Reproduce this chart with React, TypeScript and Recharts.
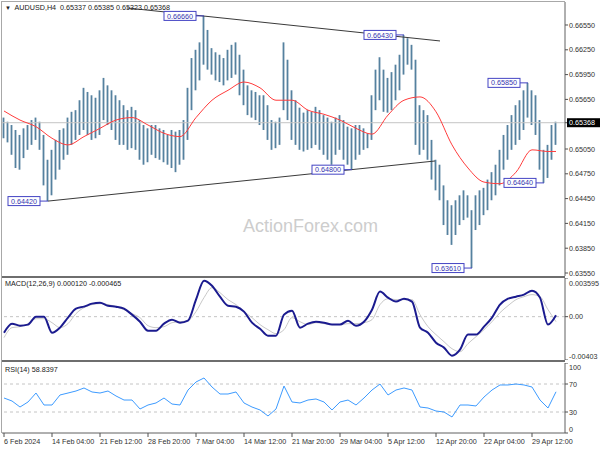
import React from 'react';
import {
  ComposedChart,
  Bar,
  Line,
  XAxis,
  YAxis,
  ReferenceLine,
  ReferenceDot
} from 'recharts';

const FONT = '"Liberation Sans", Arial, sans-serif';

// H4 highs / lows, one entry per ~2.7 bars
const barHighs = [
  0.6543, 0.6538, 0.6534, 0.6528, 0.6522, 0.6530, 0.6534, 0.6540, 0.6543, 0.6538,
  0.6522, 0.6492, 0.6504, 0.6516, 0.6528, 0.6530, 0.6543, 0.6550, 0.6552, 0.6564,
  0.6579, 0.6574, 0.6570, 0.6567, 0.6576, 0.6591, 0.6582, 0.6576, 0.6570, 0.6564,
  0.6558, 0.6552, 0.6556, 0.6552, 0.6540, 0.6534, 0.6530, 0.6534, 0.6534, 0.6530,
  0.6528, 0.6522, 0.6528, 0.6526, 0.6528, 0.6540, 0.6579, 0.6615, 0.6625, 0.6634,
  0.6666, 0.6649, 0.6627, 0.6622, 0.6619, 0.6615, 0.6625, 0.6631, 0.6634, 0.6619,
  0.6601, 0.6582, 0.6576, 0.6574, 0.6570, 0.6570, 0.6558, 0.6540, 0.6538, 0.6543,
  0.6634, 0.6613, 0.6576, 0.6564, 0.6555, 0.6549, 0.6552, 0.6550, 0.6556, 0.6552,
  0.6546, 0.6543, 0.6538, 0.6543, 0.6546, 0.6540, 0.6532, 0.6530, 0.6534, 0.6534,
  0.6530, 0.6524, 0.6570, 0.6601, 0.6616, 0.6601, 0.6591, 0.6598, 0.6607, 0.6619,
  0.6643, 0.6639, 0.6631, 0.6613, 0.6558, 0.6552, 0.6546, 0.6516, 0.6492, 0.6486,
  0.6461, 0.6443, 0.6437, 0.6443, 0.6449, 0.6455, 0.6449, 0.6431, 0.6449, 0.6455,
  0.6458, 0.6468, 0.6477, 0.6486, 0.6504, 0.6522, 0.6534, 0.6546, 0.6558, 0.6564,
  0.6576, 0.6585, 0.6576, 0.6570, 0.6540, 0.6504, 0.6510, 0.6534, 0.6538
];

const barLows = [
  0.6518, 0.6513, 0.6498, 0.6482, 0.6480, 0.6494, 0.6504, 0.6510, 0.6516, 0.6504,
  0.6461, 0.6442, 0.6449, 0.6468, 0.6480, 0.6492, 0.6498, 0.6510, 0.6516, 0.6522,
  0.6528, 0.6522, 0.6516, 0.6518, 0.6522, 0.6540, 0.6534, 0.6528, 0.6516, 0.6510,
  0.6510, 0.6504, 0.6506, 0.6504, 0.6492, 0.6486, 0.6489, 0.6498, 0.6494, 0.6492,
  0.6489, 0.6486, 0.6482, 0.6477, 0.6486, 0.6492, 0.6516, 0.6552, 0.6576, 0.6588,
  0.6607, 0.6601, 0.6595, 0.6588, 0.6586, 0.6582, 0.6588, 0.6591, 0.6595, 0.6570,
  0.6558, 0.6546, 0.6543, 0.6540, 0.6534, 0.6528, 0.6516, 0.6504, 0.6506, 0.6510,
  0.6552, 0.6540, 0.6516, 0.6510, 0.6504, 0.6502, 0.6504, 0.6506, 0.6510, 0.6504,
  0.6498, 0.6492, 0.6486, 0.6498, 0.6504, 0.6492, 0.6486, 0.6480, 0.6492, 0.6498,
  0.6504, 0.6506, 0.6516, 0.6552, 0.6564, 0.6550, 0.6549, 0.6552, 0.6564, 0.6576,
  0.6595, 0.6607, 0.6601, 0.6510, 0.6498, 0.6504, 0.6492, 0.6468, 0.6455, 0.6443,
  0.6413, 0.6401, 0.6389, 0.6401, 0.6413, 0.6419, 0.6422, 0.6361, 0.6407, 0.6413,
  0.6425, 0.6431, 0.6443, 0.6449, 0.6461, 0.6480, 0.6492, 0.6504, 0.6510, 0.6516,
  0.6528, 0.6543, 0.6534, 0.6522, 0.6480, 0.6464, 0.6470, 0.6492, 0.6510
];

// red moving average, read every 4th entry (last one = final bar)
const maValues = [
  0.6551, 0.6540, 0.6532, 0.6518, 0.6510, 0.6520, 0.6530, 0.6540, 0.6543, 0.6534,
  0.6524, 0.6520, 0.6543, 0.6564, 0.6576, 0.6586, 0.6579, 0.6564, 0.6564, 0.6552,
  0.6547, 0.6540, 0.6530, 0.6523, 0.6546, 0.6564, 0.6568, 0.6550, 0.6510, 0.6482,
  0.6465, 0.6463, 0.6477, 0.6504, 0.6502, 0.6502
];

// MACD(12,26,9) main + signal, every 2nd entry
const macdValues = [
  -0.00149, -0.00065, -0.00084, -0.00074, 0.0, 0.0, -0.00149, -0.00102, -0.00009, 0.00074,
  0.00093, 0.00121, 0.0013, 0.00102, 0.00093, 0.00074, 0.00019, -0.00047, -0.0013, -0.0013,
  -0.00065, -0.00028, -0.00056, -0.00037, 0.00158, 0.00335, 0.00288, 0.00186, 0.00102, 0.00093,
  0.00047, -0.00056, -0.00112, -0.00177, -0.00177, 0.00019, 0.00056, -0.00102, -0.00065, -0.00047,
  -0.00056, -0.00074, -0.00074, -0.00037, -0.00084, -0.00047, 0.00065, 0.00233, 0.00177, 0.0014,
  0.00167, 0.0014, -0.00102, -0.00149, -0.00242, -0.00288, -0.00363, -0.00307, -0.00167, -0.00167,
  -0.00093, -0.00009, 0.00112, 0.00167, 0.00186, 0.00205, 0.00242, 0.00177, -0.00074, 0.00012
];

const signalValues = [
  -0.00195, -0.00102, -0.00093, -0.00065, -0.00019, -0.00019, -0.00056, -0.00102, -0.00065, 0.00028,
  0.00084, 0.00112, 0.00121, 0.00112, 0.00093, 0.00065, 0.00028, -0.00009, -0.00084, -0.00102,
  -0.00093, -0.00056, -0.00047, -0.00037, 0.00047, 0.00177, 0.0027, 0.00223, 0.00158, 0.00112,
  0.00047, -0.00009, -0.00074, -0.00121, -0.00158, -0.00121, -0.00009, -0.00047, -0.00074, -0.00056,
  -0.00065, -0.00074, -0.00074, -0.00065, -0.00065, -0.00056, -0.00028, 0.00112, 0.00167, 0.00158,
  0.00158, 0.00158, 0.00019, -0.00093, -0.00167, -0.00233, -0.00298, -0.00326, -0.00251, -0.00186,
  -0.00121, -0.00047, 0.00037, 0.00102, 0.00158, 0.00186, 0.00205, 0.00186, 0.00065, -0.000465
];

// RSI(14), every 2nd entry
const rsiValues = [
  50.0, 45.7, 37.1, 44.3, 57.1, 40.0, 40.0, 54.3, 57.1, 60.0,
  64.3, 58.6, 57.1, 60.0, 52.9, 47.1, 47.1, 34.3, 40.0, 42.9,
  50.0, 41.4, 40.0, 61.4, 72.9, 78.6, 65.7, 55.7, 55.7, 58.6,
  42.9, 37.1, 32.9, 24.3, 34.3, 67.1, 44.3, 42.9, 47.1, 48.6,
  44.3, 32.9, 44.3, 47.1, 40.0, 50.0, 61.4, 70.0, 54.3, 61.4,
  64.3, 61.4, 37.1, 35.7, 31.4, 30.0, 22.9, 40.0, 40.0, 38.6,
  51.4, 61.4, 68.6, 68.6, 70.0, 68.6, 65.7, 47.1, 35.7, 58.84
];

const timeLabels = [
  '6 Feb 2024', '14 Feb 04:00', '21 Feb 12:00', '28 Feb 20:00', '7 Mar 04:00', '14 Mar 12:00',
  '21 Mar 20:00', '29 Mar 04:00', '5 Apr 12:00', '12 Apr 20:00', '22 Apr 04:00', '29 Apr 12:00'
];
const timeTicks = timeLabels.map((_, k) => k * 12);

const lastPrice = 0.65368;
const priceTicks = [0.6655, 0.6625, 0.6595, 0.6565, lastPrice, 0.6505, 0.6475, 0.6445, 0.6415, 0.6385, 0.6355];
const macdTicks = [0.003595, 0, -0.00403];
const macdTickLabels = ['0.003595', '0.00', '-0.00403'];
const rsiTicks = [100, 70, 30, 0];

const pivots = [
  { i: 50, price: 0.6666, text: '0.66660' },
  { i: 100, price: 0.6643, text: '0.66430' },
  { i: 131, price: 0.6585, text: '0.65850' },
  { i: 11, price: 0.6442, text: '0.64420' },
  { i: 87, price: 0.648, text: '0.64800' },
  { i: 117, price: 0.6361, text: '0.63610' },
  { i: 135, price: 0.6464, text: '0.64640' }
];

const trendLines = [
  [{ x: 30.75, y: 0.66756 }, { x: 109, y: 0.66357 }],
  [{ x: 11, y: 0.6442 }, { x: 107.75, y: 0.64905 }]
];

const X_DOMAIN: [number, number] = [-0.5, 140.25];

const barData = barHighs.map((h, i) => ({ i, range: [barLows[i], h] }));
const maData = maValues.map((v, k) => ({ i: Math.min(k * 4, barHighs.length - 1), v }));
const oscData = macdValues.map((m, k) => ({
  i: k * 2,
  macd: m,
  signal: signalValues[k],
  rsi: rsiValues[k]
}));

// thin OHLC-style stick
const Stick = (props: any) => {
  const { x, y, width, height } = props;
  if (height == null || isNaN(height)) return null;
  const cx = x + width / 2;
  return <rect x={cx - 0.9} y={y} width={1.8} height={Math.max(height, 1)} fill="#55819f" />;
};

const PriceTick = (props: any) => {
  const { x, y, payload } = props;
  const v = payload.value as number;
  const label = v.toFixed(5);
  if (v === lastPrice) {
    return (
      <g>
        <rect x={x - 2} y={y - 4.5} width={33} height={9} fill="#000" />
        <text x={x} y={y} dy={2.6} fontSize={7.2} fontFamily={FONT} fill="#fff">{label}</text>
      </g>
    );
  }
  return <text x={x} y={y} dy={2.6} fontSize={7.2} fontFamily={FONT} fill="#303030">{label}</text>;
};

const MacdTick = (props: any) => {
  const { x, y, payload } = props;
  const k = macdTicks.indexOf(payload.value);
  const shift = k === 0 ? 5 : k === 2 ? -4 : 0;
  return (
    <text x={x} y={y + shift} dy={2.6} fontSize={7.2} fontFamily={FONT} fill="#303030">
      {macdTickLabels[k]}
    </text>
  );
};

const RsiTick = (props: any) => {
  const { x, y, payload } = props;
  const v = payload.value as number;
  const shift = v === 100 ? 4 : v === 0 ? -4 : 0;
  return <text x={x} y={y + shift} dy={2.6} fontSize={7.2} fontFamily={FONT} fill="#303030">{v}</text>;
};

const TimeTick = (props: any) => {
  const { x, y, payload } = props;
  const label = timeLabels[Math.round(payload.value / 12)];
  return (
    <g>
      <line x1={x} y1={y} x2={x} y2={y + 4} stroke="#505050" />
      <text x={x} y={y + 11} fontSize={7.2} fontFamily={FONT} fill="#303030">{label}</text>
    </g>
  );
};

const PivotMark = ({ cx, cy, text }: any) => (
  <g>
    <line x1={cx - 8} y1={cy} x2={cx} y2={cy} stroke="#4444c4" />
    <rect x={cx - 40} y={cy - 4.5} width={32} height={9} fill="#fff" stroke="#4444c4" />
    <text x={cx - 24} y={cy + 2.6} textAnchor="middle" fontSize={7.2} fontFamily={FONT} fill="#3434b0">
      {text}
    </text>
  </g>
);

const line = (style: React.CSSProperties) => (
  <div style={{ position: 'absolute', background: '#8a8a8a', ...style }} />
);

const headerStyle: React.CSSProperties = {
  position: 'absolute',
  left: 5,
  fontSize: 7.2,
  lineHeight: '9px',
  color: '#202020',
  whiteSpace: 'pre',
  fontFamily: FONT
};

export default function App() {
  return (
    <div
      style={{
        position: 'absolute',
        left: 0,
        top: 0,
        width: 600,
        height: 450,
        background: '#fff',
        overflow: 'hidden',
        fontFamily: FONT
      }}
    >
      <div
        style={{
          position: 'absolute',
          left: 243,
          top: 216,
          fontSize: 18,
          color: '#cdcdcd',
          fontFamily: FONT
        }}
      >
        ActionForex.com
      </div>

      {/* price panel */}
      <div style={{ position: 'absolute', left: 0, top: 0 }}>
        <ComposedChart width={600} height={278} data={barData} margin={{ top: 2, right: 0, bottom: 2, left: 2 }}>
          <XAxis type="number" dataKey="i" domain={X_DOMAIN} hide allowDataOverflow />
          <YAxis
            orientation="right"
            width={35}
            domain={[0.635138, 0.668282]}
            allowDataOverflow
            ticks={priceTicks}
            interval={0}
            tick={<PriceTick />}
            tickSize={3}
            tickMargin={1}
            tickLine={{ stroke: '#505050' }}
            axisLine={{ stroke: '#606060' }}
          />
          <ReferenceLine y={lastPrice} stroke="#c4c4c4" />
          <Bar dataKey="range" barSize={3} shape={<Stick />} isAnimationActive={false} />
          <Line
            data={maData}
            dataKey="v"
            type="monotone"
            stroke="#ff3c3c"
            strokeWidth={1}
            dot={false}
            isAnimationActive={false}
          />
          {trendLines.map((seg, k) => (
            <ReferenceLine key={k} segment={seg} stroke="#3a3a3a" strokeWidth={1} />
          ))}
          {pivots.map((p) => (
            <ReferenceDot
              key={p.text}
              x={p.i}
              y={p.price}
              r={1}
              shape={(props: any) => <PivotMark cx={props.cx} cy={props.cy} text={p.text} />}
            />
          ))}
        </ComposedChart>
      </div>

      {/* MACD panel */}
      <div style={{ position: 'absolute', left: 0, top: 278 }}>
        <ComposedChart width={600} height={82} data={oscData} margin={{ top: 0, right: 0, bottom: 0, left: 2 }}>
          <XAxis type="number" dataKey="i" domain={X_DOMAIN} hide allowDataOverflow />
          <YAxis
            orientation="right"
            width={35}
            domain={[-0.00403, 0.003595]}
            allowDataOverflow
            ticks={macdTicks}
            interval={0}
            tick={<MacdTick />}
            tickSize={3}
            tickMargin={1}
            tickLine={{ stroke: '#505050' }}
            axisLine={{ stroke: '#606060' }}
          />
          <ReferenceLine y={0} stroke="#c4c4c4" strokeDasharray="3 3" />
          <Line dataKey="signal" type="monotone" stroke="#c8c8c8" strokeWidth={1} dot={false} isAnimationActive={false} />
          <Line dataKey="macd" type="monotone" stroke="#1b1b8f" strokeWidth={2} dot={false} isAnimationActive={false} />
        </ComposedChart>
      </div>

      {/* RSI panel */}
      <div style={{ position: 'absolute', left: 0, top: 363 }}>
        <ComposedChart width={600} height={87} data={oscData} margin={{ top: 0, right: 0, bottom: 0, left: 2 }}>
          <XAxis
            type="number"
            dataKey="i"
            domain={X_DOMAIN}
            allowDataOverflow
            ticks={timeTicks}
            interval={0}
            height={17}
            tickSize={0}
            tickMargin={0}
            tickLine={false}
            tick={<TimeTick />}
            axisLine={{ stroke: '#606060' }}
          />
          <YAxis
            orientation="right"
            width={35}
            domain={[0, 100]}
            ticks={rsiTicks}
            interval={0}
            tick={<RsiTick />}
            tickSize={3}
            tickMargin={1}
            tickLine={{ stroke: '#505050' }}
            axisLine={{ stroke: '#606060' }}
          />
          <ReferenceLine y={70} stroke="#c4c4c4" strokeDasharray="3 3" />
          <ReferenceLine y={30} stroke="#c4c4c4" strokeDasharray="3 3" />
          <Line dataKey="rsi" type="linear" stroke="#3d9bff" strokeWidth={1} dot={false} isAnimationActive={false} />
        </ComposedChart>
      </div>

      {/* panel frames */}
      {line({ left: 2, top: 1, width: 563, height: 1, background: '#a8a8a8' })}
      {line({ left: 1, top: 1, width: 1, height: 432, background: '#a8a8a8' })}
      {line({ left: 2, top: 276, width: 563, height: 2, background: '#6e6e6e' })}
      {line({ left: 2, top: 360, width: 563, height: 2, background: '#6e6e6e' })}

      <div style={{ ...headerStyle, top: 3 }}>
        <span style={{ fontSize: 6 }}>▼</span>
        {'  AUDUSD,H4  0.65337 0.65385 0.65323 0.65368'}
      </div>
      <div style={{ ...headerStyle, top: 279 }}>MACD(12,26,9) 0.000120 -0.000465</div>
      <div style={{ ...headerStyle, top: 365 }}>RSI(14) 58.8397</div>
    </div>
  );
}
